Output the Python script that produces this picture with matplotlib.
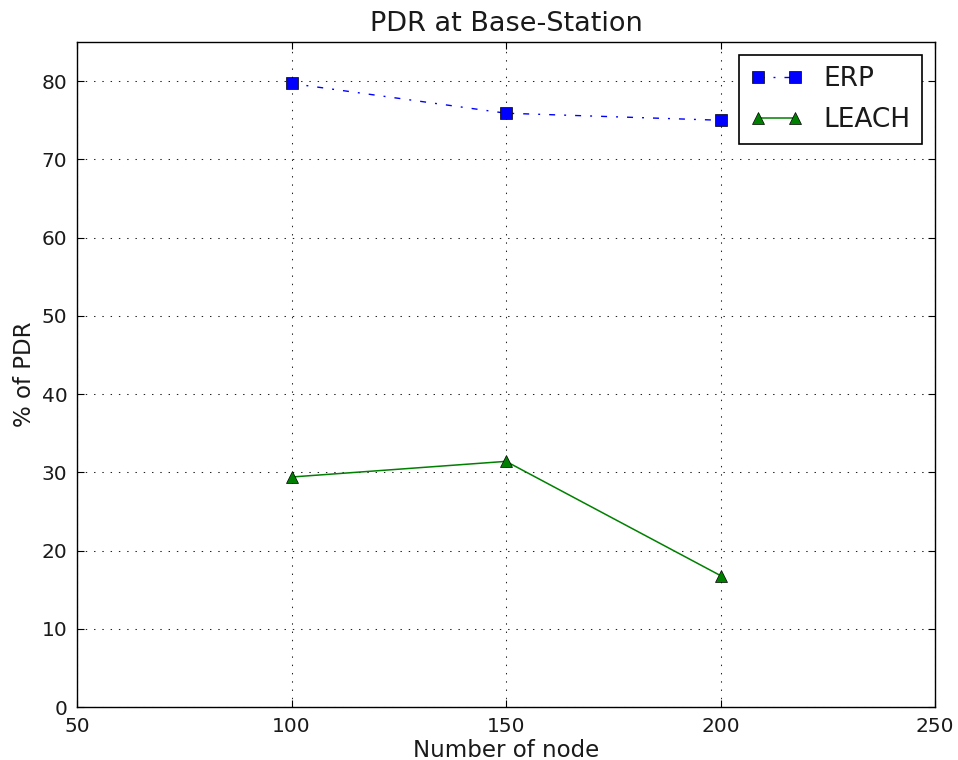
import matplotlib
matplotlib.use("Agg")
import matplotlib.pyplot as plt

nodes = [100, 150, 200]
erp = [79.7, 75.9, 75.0]
leach = [29.4, 31.4, 16.8]
xticks = [50, 100, 150, 200, 250]
yticks = [0, 10, 20, 30, 40, 50, 60, 70, 80]

fig = plt.figure(figsize=(9.58, 7.6), dpi=100)
ax = fig.add_axes([0.0804, 0.0697, 0.976 - 0.0804, 0.9447 - 0.0697])

ax.plot(nodes, erp, color='blue', linestyle=(0, (4.3, 6.5, 1.4, 6.5)), marker='s',
        markersize=8.8, markeredgecolor='black', markeredgewidth=0.5,
        linewidth=1.0, label='ERP')
ax.plot(nodes, leach, color='green', linestyle='-', marker='^', markersize=8.8,
        markerfacecolor='green', markeredgecolor='black', markeredgewidth=0.5,
        linewidth=1.1, label='LEACH')

ax.set_xlim(50, 250)
ax.set_ylim(0, 85)
ax.set_xticks(xticks)
ax.set_yticks(yticks)
ax.tick_params(direction='in', top=True, right=True, labelsize=14.5, length=5,
               pad=7, labelcolor='#1a1a1a')
ax.grid(True, color='#222222', linestyle=(0, (1.35, 6.6)), linewidth=0.75)
for s in ax.spines.values():
    s.set_linewidth(1.0)

ax.set_title('PDR at Base-Station', fontsize=19.5, pad=8, color='#1a1a1a')
ax.set_xlabel('Number of node', fontsize=16.5, labelpad=2, color='#1a1a1a')
ax.set_ylabel('% of PDR', fontsize=16.5, labelpad=4, color='#1a1a1a')

leg = ax.legend(loc='upper right', fontsize=19, numpoints=2, fancybox=False,
                framealpha=1, edgecolor='black', borderaxespad=0.5,
                labelspacing=0.55, borderpad=0.42, handlelength=2.0)
leg.get_frame().set_linewidth(1.2)
for t in leg.get_texts():
    t.set_color('#1a1a1a')

fig.savefig('out.png', dpi=100)
